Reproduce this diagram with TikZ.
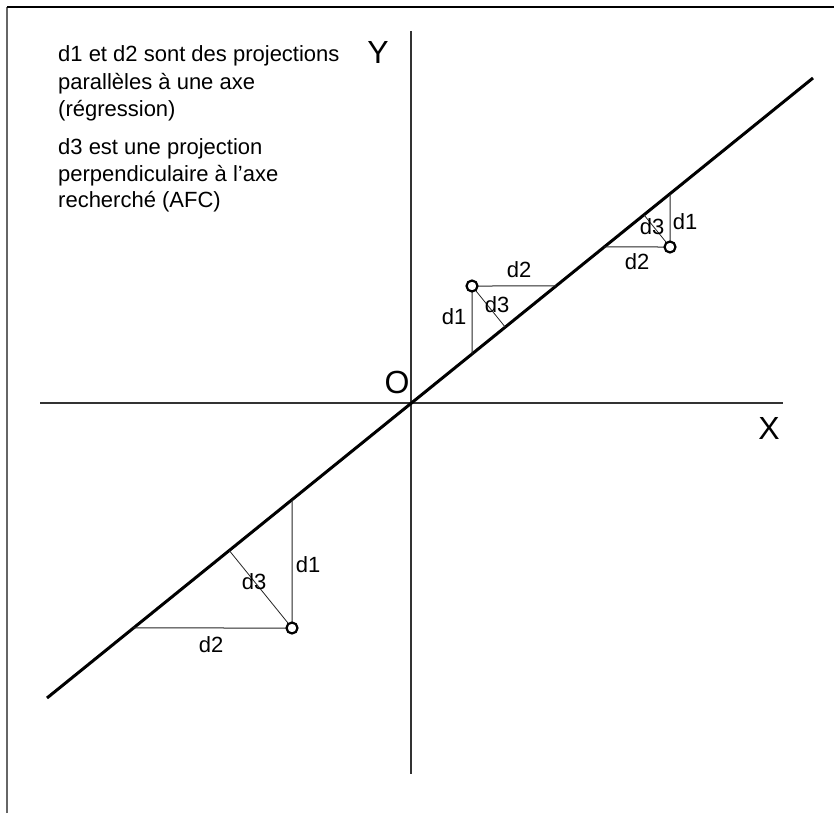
\documentclass[tikz,border=0pt]{standalone}
\usepackage{fontspec}
\setmainfont{Liberation Sans}
\usetikzlibrary{calc}
\begin{document}
\begin{tikzpicture}[x=1pt,y=-1pt,
  axisline/.style={draw=black!80, line width=1.1pt},
  regline/.style={draw=black, line width=3pt},
  projline/.style={draw=black!85, line width=1pt},
  ptmark/.style={circle, draw=black, line width=2.2pt, minimum size=11pt, inner sep=0pt},
  lab/.style={font=\fontsize{22}{24}\selectfont, inner sep=0pt},
  big/.style={font=\fontsize{32}{36}\selectfont, inner sep=0pt},
  txt/.style={font=\fontsize{22}{26}\selectfont, anchor=base west, inner sep=0pt}]
\useasboundingbox (0,0) rectangle (834,813);
% frame
\draw[draw=black!60, line width=1.3pt] (7,813) -- (7,7);
\draw[draw=black, line width=1.6pt] (7,7) -- (834,7);
% axes
\coordinate (O) at (411,403);
\coordinate (xl) at (40,403);
\coordinate (xr) at (783,403);
\coordinate (yt) at (411,31);
\coordinate (yb) at (411,774);
\draw[axisline] (xl) -- (xr);
\draw[axisline] (yt) -- (yb);
% regression line
\coordinate (L1) at (47,698);
\coordinate (L2) at (813,78);
\draw[regline] (L1) -- (L2);
% points
\coordinate (P1) at (292,628);
\coordinate (P2) at (472,286);
\coordinate (P3) at (670,247);
\foreach \i/\x/\y in {1/292/628,2/472/286,3/670/247}{
  \coordinate (P\i v) at (\x,0);
  \coordinate (P\i h) at (0,\y);
}
\coordinate (A1) at (intersection of L1--L2 and P1--P1v);
\coordinate (B1) at (intersection of L1--L2 and P1--P1h);
\coordinate (C1) at ($(L1)!(P1)!(L2)$);
\coordinate (A2) at (intersection of L1--L2 and P2--P2v);
\coordinate (B2) at (intersection of L1--L2 and P2--P2h);
\coordinate (C2) at ($(L1)!(P2)!(L2)$);
\coordinate (A3) at (intersection of L1--L2 and P3--P3v);
\coordinate (B3) at (intersection of L1--L2 and P3--P3h);
\coordinate (C3) at ($(L1)!(P3)!(L2)$);
\foreach \i in {1,2,3}{
  \draw[projline] (P\i) -- (A\i);
  \draw[projline] (P\i) -- (B\i);
  \draw[projline, line width=0.8pt] (P\i) -- (C\i);
}
\node[ptmark, fill=white] (p1) at (P1) {};
\node[ptmark, fill=white] (p2) at (P2) {};
\node[ptmark, fill=white] (p3) at (P3) {};
% labels
\node[lab] (l1a) at (308,565) {d1};
\node[lab] (l1c) at (254,582) {d3};
\node[lab] (l1b) at (211,645) {d2};
\node[lab] (l2b) at (519,270) {d2};
\node[lab] (l2c) at (497,305) {d3};
\node[lab] (l2a) at (454,317) {d1};
\node[lab] (l3a) at (685,222) {d1};
\node[lab] (l3c) at (652,227) {d3};
\node[lab] (l3b) at (637,262) {d2};
\node[big] (ylab) at (378,52) {Y};
\node[big] (olab) at (397,382) {O};
\node[big] (xlab) at (769,428) {X};
% text
\node[txt] (t1) at (58,62) {d1 et d2 sont des projections};
\node[txt] (t2) at (58,89.5) {parallèles à une axe};
\node[txt] (t3) at (58,117) {(régression)};
\node[txt] (t4) at (58,155) {d3 est une projection};
\node[txt] (t5) at (58,181) {perpendiculaire à l'axe};
\node[txt] (t6) at (58,207) {recherché (AFC)};
\end{tikzpicture}
\end{document}
